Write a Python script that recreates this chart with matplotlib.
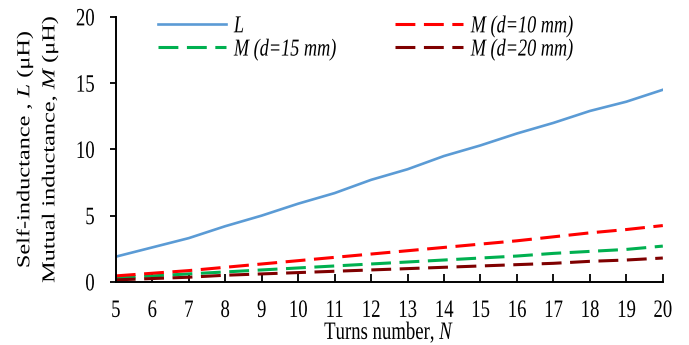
import matplotlib
matplotlib.use("Agg")
import matplotlib.pyplot as plt
from matplotlib import patheffects
from matplotlib.transforms import Affine2D

# Data
turns = [5, 6, 7, 8, 9, 10, 11, 12, 13, 14, 15, 16, 17, 18, 19, 20]
L_self = [1.9, 2.6, 3.3, 4.2, 5.0, 5.9, 6.7, 7.7, 8.5, 9.5, 10.3, 11.2, 12.0, 12.9, 13.6, 14.5]
M_d10 = [0.45, 0.65, 0.85, 1.1, 1.35, 1.6, 1.85, 2.1, 2.35, 2.6, 2.85, 3.1, 3.4, 3.7, 3.95, 4.25]
M_d15 = [0.3, 0.45, 0.6, 0.75, 0.9, 1.05, 1.2, 1.35, 1.5, 1.65, 1.8, 1.95, 2.15, 2.3, 2.45, 2.7]
M_d20 = [0.15, 0.25, 0.35, 0.5, 0.6, 0.7, 0.8, 0.9, 1.0, 1.1, 1.2, 1.3, 1.4, 1.55, 1.65, 1.8]

x_ticks = list(range(5, 21))
y_ticks = [0, 5, 10, 15, 20]


class XSquash(patheffects.AbstractPathEffect):
    """Squeeze drawn text horizontally (the reference image is narrowed)."""

    def __init__(self, sx=0.75, anchor="center"):
        super().__init__()
        self.sx = sx
        self.anchor = anchor

    def draw_path(self, renderer, gc, tpath, affine, rgbFace=None):
        ext = tpath.get_extents(affine)
        if self.anchor == "left":
            x = ext.x0
        elif self.anchor == "right":
            x = ext.x1
        else:
            x = 0.5 * (ext.x0 + ext.x1)
        squash = Affine2D().translate(-x, 0).scale(self.sx, 1).translate(x, 0)
        renderer.draw_path(gc, tpath, affine + squash, rgbFace)


plt.rcParams["font.family"] = ["Liberation Serif", "DejaVu Serif"]
plt.rcParams["mathtext.fontset"] = "custom"
plt.rcParams["mathtext.rm"] = "Liberation Serif"
plt.rcParams["mathtext.it"] = "Liberation Serif:italic"

fig = plt.figure(figsize=(6.89, 3.45), dpi=100)
ax = fig.add_axes([0.168, 0.183, 0.794, 0.768])

dash = (6.5, 2.8)
ax.plot(turns, L_self, color="#5B9BD5", lw=1.9, label="L")
ax.plot(turns, M_d15, color="#00B050", lw=2.2, dashes=dash, label="M (d=15 mm)")
ax.plot(turns, M_d10, color="#FF0000", lw=2.2, dashes=dash, label="M (d=10 mm)")
ax.plot(turns, M_d20, color="#7F0000", lw=2.2, dashes=dash, label="M (d=20 mm)")

ax.set_xlim(5, 20)
ax.set_ylim(0, 20)
ax.set_xticks(x_ticks)
ax.set_yticks(y_ticks)
ax.tick_params(axis="x", direction="in", length=6, width=1.3, labelsize=18, pad=13)
ax.tick_params(axis="y", direction="out", length=4, width=1.3, labelsize=18, pad=11)
for side in ("top", "right"):
    ax.spines[side].set_visible(False)
for side in ("left", "bottom"):
    ax.spines[side].set_linewidth(1.4)

for lbl in ax.get_xticklabels():
    lbl.set_path_effects([XSquash(0.75, "center")])
for lbl in ax.get_yticklabels():
    lbl.set_path_effects([XSquash(0.75, "right")])

xl = ax.set_xlabel("Turns number, $N$", fontsize=18, labelpad=-1)
xl.set_path_effects([XSquash(0.75, "center")])
yl = ax.set_ylabel("Self-inductance , $L$ (\u03bcH)\nMutual inductance, $M$ (\u03bcH)",
                   fontsize=17.5, linespacing=0.95, labelpad=5)
yl.set_path_effects([XSquash(0.75, "center")])

leg = ax.legend(ncol=2, frameon=False, prop={"size": 17.5, "style": "italic"},
                handlelength=2.8, handletextpad=0.33, columnspacing=1.0,
                labelspacing=0.05, borderpad=0.0, borderaxespad=0.0,
                loc="upper left", bbox_to_anchor=(0.077, 1.006))
for t in leg.get_texts():
    t.set_path_effects([XSquash(0.75, "left")])

fig.savefig("out.png", dpi=100)
